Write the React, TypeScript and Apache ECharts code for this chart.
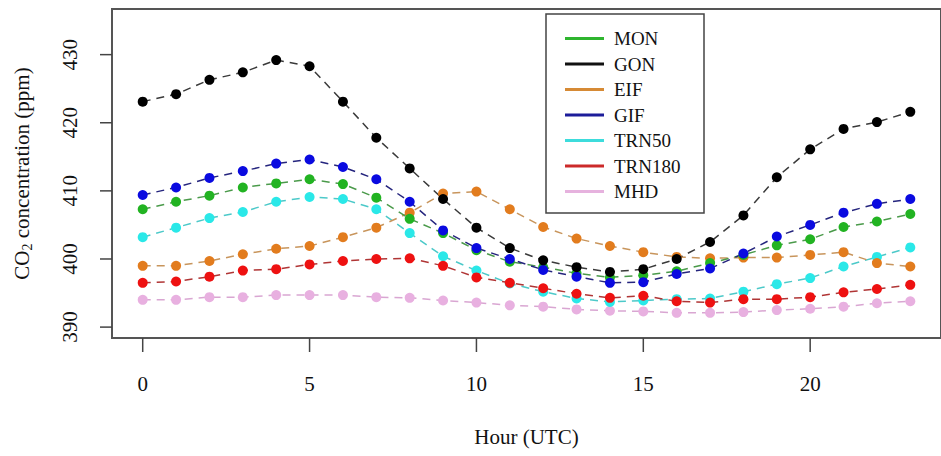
import { useEffect, useRef } from "react";
import * as echarts from "echarts";

// Hour of day (UTC)
const hours = [0, 1, 2, 3, 4, 5, 6, 7, 8, 9, 10, 11, 12, 13, 14, 15, 16, 17, 18, 19, 20, 21, 22, 23];

// Mean diurnal CO2 concentration (ppm) per station
const mon = [407.3, 408.4, 409.3, 410.5, 411.1, 411.7, 411.0, 409.0, 405.9, 403.8, 401.3, 399.6, 398.8, 397.9, 397.3, 397.6, 398.2, 399.4, 400.6, 402.0, 402.9, 404.7, 405.5, 406.6];
const gon = [423.1, 424.2, 426.3, 427.4, 429.2, 428.3, 423.1, 417.8, 413.3, 408.8, 404.6, 401.6, 399.8, 398.8, 398.1, 398.5, 400.0, 402.5, 406.4, 412.0, 416.1, 419.1, 420.1, 421.6];
const eif = [399.0, 399.0, 399.7, 400.7, 401.5, 401.9, 403.2, 404.6, 406.8, 409.6, 409.9, 407.3, 404.7, 403.0, 401.9, 401.0, 400.3, 400.1, 400.2, 400.2, 400.6, 401.0, 399.4, 398.9];
const gif = [409.4, 410.5, 411.9, 412.9, 414.0, 414.6, 413.5, 411.7, 408.4, 404.2, 401.6, 400.0, 398.4, 397.4, 396.5, 396.6, 397.8, 398.6, 400.8, 403.3, 405.0, 406.8, 408.1, 408.8];
const trn50 = [403.2, 404.6, 406.0, 406.9, 408.4, 409.1, 408.8, 407.3, 403.8, 400.4, 398.3, 396.4, 395.2, 394.2, 393.7, 393.9, 394.1, 394.2, 395.2, 396.3, 397.2, 398.9, 400.3, 401.7];
const trn180 = [396.5, 396.7, 397.4, 398.3, 398.5, 399.2, 399.7, 400.0, 400.1, 399.0, 397.3, 396.5, 395.7, 394.9, 394.3, 394.6, 393.8, 393.6, 394.1, 394.1, 394.4, 395.1, 395.6, 396.2];
const mhd = [394.0, 394.0, 394.4, 394.4, 394.7, 394.7, 394.7, 394.4, 394.3, 393.9, 393.6, 393.2, 393.0, 392.6, 392.4, 392.3, 392.1, 392.1, 392.2, 392.5, 392.7, 393.0, 393.5, 393.8];

const legendOrder = ["MON", "GON", "EIF", "GIF", "TRN50", "TRN180", "MHD"];
const xTicks = [0, 5, 10, 15, 20];
const yTicks = [390, 400, 410, 420, 430];

const X_MIN = -0.92;
const X_MAX = 23.92;
const Y_MIN = 388.4;
const Y_MAX = 436.7;

const FONT = "Liberation Serif";
const INK = "#111111";
const TICK = "#444444";

// name, values, point colour, dashed line colour, legend line colour
const stations: [string, number[], string, string, string][] = [
  ["MHD", mhd, "#e8b0e0", "#d9a6d2", "#e6b2de"],
  ["TRN50", trn50, "#2ae8e8", "#4cc9c9", "#3ddcdc"],
  ["TRN180", trn180, "#ee1111", "#b03535", "#cc2a2a"],
  ["EIF", eif, "#e27c1e", "#c8955c", "#d68a35"],
  ["MON", mon, "#22b322", "#4a9a4a", "#2fb52f"],
  ["GIF", gif, "#0a0ae0", "#25257e", "#1c1c9a"],
  ["GON", gon, "#000000", "#3a3a3a", "#111111"],
];

export default function App() {
  const ref = useRef<HTMLDivElement>(null);

  useEffect(() => {
    if (!ref.current) return;
    const chart = echarts.init(ref.current, null, { renderer: "svg" });

    const legendColor: Record<string, string> = {};
    stations.forEach((s) => (legendColor[s[0]] = s[4]));

    const series = stations.map(([name, vals, pt, ln]) => ({
      name,
      type: "line",
      data: hours.map((h, i) => [h, vals[i]]),
      symbol: "circle",
      symbolSize: 10,
      itemStyle: { color: pt },
      lineStyle: { color: ln, width: 1.5, type: [8, 6] },
      emphasis: { disabled: true },
    }));

    chart.setOption({
      animation: false,
      backgroundColor: "#ffffff",
      textStyle: { fontFamily: FONT },
      grid: {
        left: 112,
        top: 9,
        width: 835,
        height: 329,
        show: true,
        borderColor: "#555555",
        borderWidth: 2,
      },
      xAxis: {
        type: "value",
        min: X_MIN,
        max: X_MAX,
        axisLine: { show: false, onZero: false },
        splitLine: { show: false },
        axisTick: { show: false },
        axisLabel: {
          customValues: xTicks,
          margin: 35,
          fontSize: 21,
          fontFamily: FONT,
          color: INK,
        },
        name: "Hour (UTC)",
        nameLocation: "middle",
        nameGap: 88,
        nameTextStyle: { fontSize: 21, fontFamily: FONT, color: INK },
      },
      yAxis: {
        type: "value",
        min: Y_MIN,
        max: Y_MAX,
        axisLine: { show: false, onZero: false },
        splitLine: { show: false },
        axisTick: { show: false },
        axisLabel: { show: false },
        name: "{a|CO}{s|2}{a| concentration (ppm)}",
        nameLocation: "middle",
        nameGap: 78,
        nameRotate: 90,
        nameTextStyle: {
          fontFamily: FONT,
          rich: {
            a: { fontSize: 21, fontFamily: FONT, color: INK },
            s: { fontSize: 14, fontFamily: FONT, color: INK, padding: [10, 0, 0, 0] },
          },
        },
      },
      legend: {
        orient: "vertical",
        left: 565,
        top: 29,
        padding: 0,
        z: 10,
        icon: "rect",
        itemWidth: 39,
        itemHeight: 3,
        itemGap: 6.5,
        selectedMode: false,
        textStyle: {
          fontSize: 19,
          fontFamily: FONT,
          color: INK,
          lineHeight: 19,
          padding: [0, 0, 0, 5],
        },
        data: legendOrder.map((n) => ({ name: n, itemStyle: { color: legendColor[n] } })),
      },
      series,
    });

    // Outward ticks and the rotated y tick labels, placed through the grid's own scales
    const extras: any[] = [
      {
        type: "rect",
        id: "legend-box",
        z: 5,
        shape: { x: 546, y: 14, width: 158, height: 199 },
        style: { fill: "#ffffff", stroke: "#444444", lineWidth: 1.5 },
      },
    ];
    yTicks.forEach((v, i) => {
      const [px, py] = chart.convertToPixel({ gridIndex: 0 }, [X_MIN, v]) as number[];
      extras.push({
        type: "line",
        id: "ytick" + i,
        z: 6,
        shape: { x1: px - 12, y1: py, x2: px, y2: py },
        style: { stroke: TICK, lineWidth: 1.5 },
      });
      extras.push({
        type: "text",
        id: "ylabel" + i,
        z: 6,
        x: px - 42,
        y: py,
        rotation: Math.PI / 2,
        style: {
          text: String(v),
          fontSize: 21,
          fontFamily: FONT,
          fill: INK,
          align: "center",
          verticalAlign: "middle",
        },
      });
    });
    xTicks.forEach((h, i) => {
      const [px, py] = chart.convertToPixel({ gridIndex: 0 }, [h, Y_MIN]) as number[];
      extras.push({
        type: "line",
        id: "xtick" + i,
        z: 6,
        shape: { x1: px, y1: py, x2: px, y2: py + 14 },
        style: { stroke: TICK, lineWidth: 1.5 },
      });
    });
    chart.setOption({ graphic: extras });

    return () => chart.dispose();
  }, []);

  return (
    <div
      ref={ref}
      style={{ position: "absolute", left: 0, top: 0, width: 941, height: 456, background: "#ffffff" }}
    />
  );
}
